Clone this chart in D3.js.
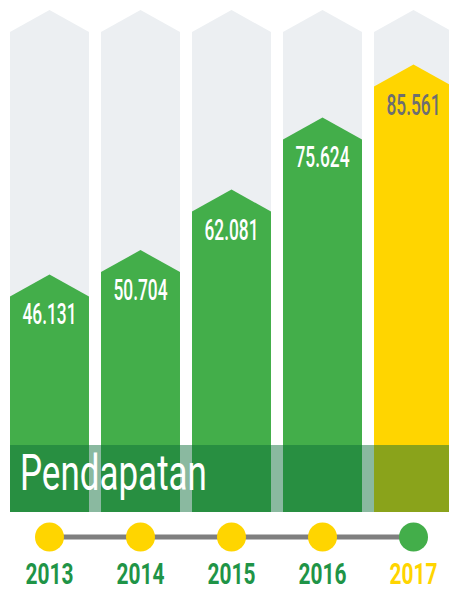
<!DOCTYPE html>
<html>
<head>
<meta charset="utf-8">
<script src="https://cdn.jsdelivr.net/npm/d3@7"></script>
<style>
  body { margin: 0; background: #fff; }
  svg { display: block; }
</style>
</head>
<body>
<div id="chart"></div>
<script>
var w = 449, h = 595;

var years = ['2013', '2014', '2015', '2016', '2017'];
var values = [46.131, 50.704, 62.081, 75.624, 85.561];
var labels = ['46.131', '50.704', '62.081', '75.624', '85.561'];
var title = 'Pendapatan';
var maxValue = 95.8; // top of the grey background columns

var green = '#43ae4a', yellow = '#ffd500', grey = '#eceff2';
var bottom = 512, peak = 22;

const svg = d3.select('#chart')
              .append('svg')
              .attr('width', w)
              .attr('height', h);

var x = d3.scaleBand()
          .domain(years)
          .range([10, 453])
          .paddingInner(0.132)
          .paddingOuter(0);

var y = d3.scaleLinear()
          .domain([0, maxValue])
          .range([520, 10]);

// arrow shaped column, tip at yTop
function arrow(x0, width, yTop) {
  var x1 = x0 + width, xc = x0 + width / 2;
  return 'M' + x0 + ',' + (yTop + peak) + 'L' + xc + ',' + yTop + 'L' + x1 + ',' + (yTop + peak) +
         'L' + x1 + ',' + bottom + 'L' + x0 + ',' + bottom + 'Z';
}

// squeeze text horizontally to a condensed look
function condense(sel, width, px, py) {
  sel.each(function (d, i) {
    var t = d3.select(this);
    var k = width / this.getComputedTextLength();
    t.attr('transform', 'translate(' + px(d, i) + ',' + py(d, i) + ') scale(' + k + ',1)');
  });
}

var last = years.length - 1;

svg.selectAll('.bg')
   .data(years)
   .enter()
     .append('path')
     .attr('class', 'bg')
     .attr('d', d => arrow(x(d), x.bandwidth(), y(maxValue)))
     .attr('fill', grey);

svg.selectAll('.bar')
   .data(values)
   .enter()
     .append('path')
     .attr('class', 'bar')
     .attr('d', (d, i) => arrow(x(years[i]), x.bandwidth(), y(d)))
     .attr('fill', (d, i) => i == last ? yellow : green);

svg.selectAll('.val')
   .data(values)
   .enter()
     .append('text')
     .attr('class', 'val')
     .attr('text-anchor', 'middle')
     .attr('font-family', 'Roboto')
     .attr('font-weight', 500)
     .attr('font-size', 30)
     .attr('fill', (d, i) => i == last ? '#6d6e71' : '#fff')
     .text((d, i) => labels[i])
     .call(condense, 54, (d, i) => x(years[i]) + x.bandwidth() / 2, d => y(d) + 50);

// translucent title band
svg.append('rect')
   .attr('x', 10)
   .attr('y', 445)
   .attr('width', w - 10)
   .attr('height', 67)
   .attr('fill', 'rgb(10,108,57)')
   .attr('fill-opacity', 0.48);

svg.append('text')
   .datum(title)
   .attr('font-family', 'Roboto')
   .attr('font-size', 50)
   .attr('fill', '#fff')
   .text(d => d)
   .call(condense, 187, () => 20, () => 490);

// timeline
var cx = d => x(d) + x.bandwidth() / 2;
svg.append('line')
   .attr('x1', cx(years[0]))
   .attr('x2', cx(years[last]))
   .attr('y1', 537)
   .attr('y2', 537)
   .attr('stroke', '#7f7f7f')
   .attr('stroke-width', 5);

svg.selectAll('.dot')
   .data(years)
   .enter()
     .append('circle')
     .attr('class', 'dot')
     .attr('cx', cx)
     .attr('cy', 537)
     .attr('r', 14.5)
     .attr('fill', (d, i) => i == last ? green : yellow);

svg.selectAll('.year')
   .data(years)
   .enter()
     .append('text')
     .attr('class', 'year')
     .attr('text-anchor', 'middle')
     .attr('font-family', 'Roboto')
     .attr('font-weight', 'bold')
     .attr('font-size', 30)
     .attr('fill', (d, i) => i == last ? yellow : '#1f9447')
     .text(d => d)
     .call(condense, 48, cx, () => 584);
</script>
</body>
</html>
